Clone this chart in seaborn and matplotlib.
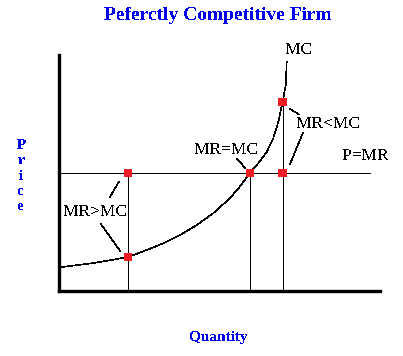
import matplotlib
matplotlib.use("Agg")
import matplotlib.pyplot as plt
import seaborn as sns
import pandas as pd

# MC curve (quantity, price in axis units 0..10)
quantity = [0, 1.07, 2.17, 2.75, 3.26, 3.79, 4.31, 4.82, 5.34, 5.65, 5.97,
            6.22, 6.49, 6.69, 6.85, 6.98, 7.08, 7.11]
mc = [0.98, 1.16, 1.42, 1.72, 2.00, 2.36, 2.78, 3.28, 3.92, 4.41, 5.00,
      5.40, 5.89, 6.46, 7.17, 8.00, 8.73, 9.72]

price = 5.0          # P = MR
mr_end = 9.70        # where the P=MR line stops
q_low, q_eq, q_high = 2.17, 5.97, 6.98
mc_low, mc_high = 1.42, 8.00

pts_q = [q_low, q_eq, q_high, q_low, q_high]
pts_p = [price, price, price, mc_low, mc_high]

labels = ["MC", "MR<MC", "P=MR", "MR=MC", "MR>MC"]
label_q = [7.49, 8.40, 9.58, 5.23, 1.14]
label_p = [10.21, 7.06, 5.72, 5.97, 3.33]

# short pointer lines next to the labels
leaders = [
    ((5.55, 5.81), (5.61, 5.21)),
    ((7.21, 7.49), (7.71, 7.48)),
    ((7.61, 7.21), (6.68, 5.36)),
    ((1.88, 1.60), (4.61, 3.97)),
    ((1.32, 1.92), (2.82, 1.68)),
]

sns.set_style("white")
plt.rcParams["font.family"] = ["Liberation Serif", "DejaVu Serif"]
plt.rcParams["text.antialiased"] = False

W, H = 403, 356
fig = plt.figure(figsize=(W / 100, H / 100), dpi=100)
fig.patch.set_facecolor("white")

def fx(x):
    return x / W

def fy(y):
    return 1 - y / H

ax = fig.add_axes([fx(58.5), fy(290.5), (379.5 - 58.5) / W, (290.5 - 55) / H])
ax.set_xlim(0, 10)
ax.set_ylim(0, 10)

lw = 0.6      # straight guide lines
lw_d = 0.45   # curve and slanted pointers
df = pd.DataFrame({"quantity": quantity, "mc": mc})
sns.lineplot(data=df, x="quantity", y="mc", color="black", linewidth=lw_d,
             sort=False, ax=ax, antialiased=False)

ax.hlines(price, 0, mr_end, color="black", linewidth=lw, antialiased=False)
ax.vlines([q_low, q_eq], 0, price, color="black", linewidth=lw, antialiased=False)
ax.vlines(q_high, 0, mc_high, color="black", linewidth=lw, antialiased=False)

for xs, ys in leaders:
    ax.plot(xs, ys, color="black", linewidth=lw_d, antialiased=False)

sns.scatterplot(x=pts_q, y=pts_p, marker="s", s=36, color="#ee1c24",
                edgecolor="none", ax=ax, zorder=5)

for t, q, p in zip(labels, label_q, label_p):
    ax.text(q, p, t, ha="center", va="center", fontsize=12.5, color="black", clip_on=False)

ax.set_xticks([])
ax.set_yticks([])
ax.set_xlabel("")
ax.set_ylabel("")
sns.despine(ax=ax)
for s in ["left", "bottom"]:
    ax.spines[s].set_linewidth(2.4)
    ax.spines[s].set_color("black")

fig.text(fx(218), fy(19.5), "Peferctly Competitive Firm", ha="center", va="baseline",
         fontsize=14, fontweight="bold", color="#0000ee")
fig.text(fx(218.5), fy(341), "Quantity", ha="center", va="baseline",
         fontsize=11, fontweight="bold", color="#0000ee")
for i, ch in enumerate("Price"):
    fig.text(fx(21), fy(149.3 + 15.2 * i), ch, ha="center", va="baseline",
             fontsize=11, fontweight="bold", color="#0000ee")

fig.savefig("out.png", dpi=100)
